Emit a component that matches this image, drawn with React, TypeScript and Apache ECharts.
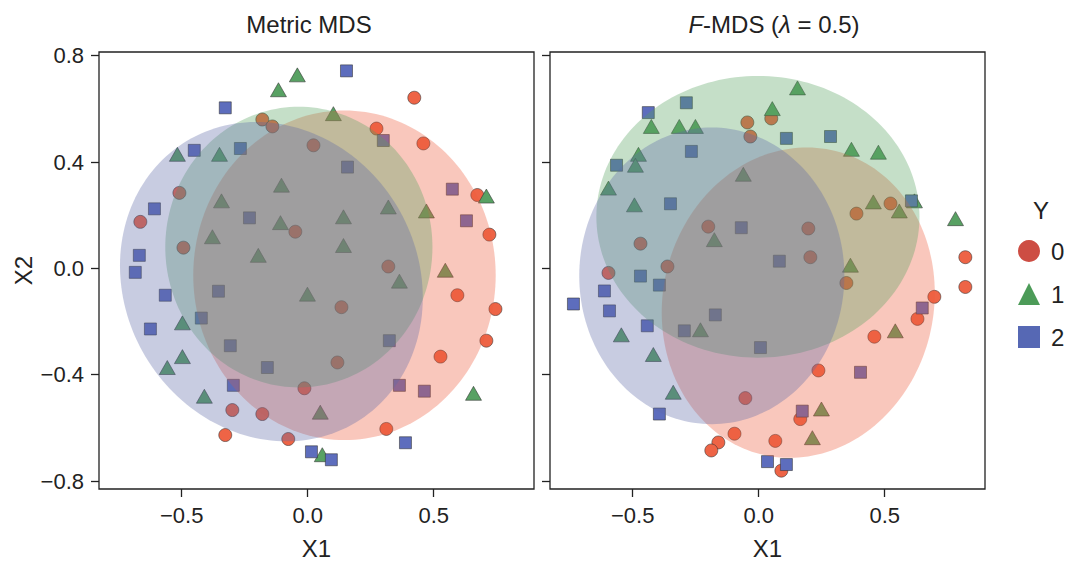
import React, { useEffect, useRef } from "react";
import * as echarts from "echarts";

const FONT = "'Liberation Sans', Arial, Helvetica, sans-serif";

const classes = ["0", "1", "2"];
const pointColors = ["#ee6446", "#58a163", "#5d6dbd"];
const ellipseColors = ["#ee5a3a", "#55a05e", "#5d6aa8"];
const legendColors = ["#cd4d43", "#4c9b58", "#5668b4"];
const symbols = ["circle", "triangle", "rect"];
const symbolSizes: any[] = [13, [16, 14], 12];
const panelTitles = ["Metric MDS", "{i|F}-MDS ({i|λ} = 0.5)"];
const xTicks = [-0.5, 0, 0.5];
const yTicks = [-0.8, -0.4, 0, 0.4, 0.8];

// Metric MDS points
const metric0 = [
  [0.423, 0.642], [0.459, 0.47], [0.273, 0.526], [0.023, 0.463], [-0.18, 0.56],
  [-0.14, 0.534], [-0.509, 0.284], [-0.664, 0.175], [-0.493, 0.078], [-0.049, 0.138],
  [0.673, 0.276], [0.721, 0.127], [0.32, 0.007], [0.134, -0.146], [0.594, -0.101],
  [0.745, -0.153], [0.709, -0.272], [0.527, -0.332], [0.118, -0.354], [-0.013, -0.451],
  [0.312, -0.604], [-0.299, -0.533], [-0.18, -0.548], [-0.327, -0.627], [-0.077, -0.642],
];
const metric1 = [
  [-0.041, 0.728], [-0.116, 0.672], [0.102, 0.582], [-0.517, 0.429], [-0.35, 0.429],
  [-0.104, 0.313], [-0.342, 0.254], [-0.108, 0.172], [-0.378, 0.119], [-0.196, 0.049],
  [0.32, 0.231], [0.471, 0.216], [0.142, 0.194], [0.142, 0.086], [0.709, 0.272],
  [0.546, -0.007], [0.364, -0.048], [-0.001, -0.097], [0.05, -0.541], [0.058, -0.701],
  [0.658, -0.47], [-0.497, -0.205], [-0.497, -0.332], [-0.557, -0.373], [-0.41, -0.481],
];
const metric2 = [
  [-0.327, 0.604], [-0.45, 0.444], [-0.267, 0.451], [-0.608, 0.224], [-0.231, 0.19],
  [-0.668, 0.049], [-0.684, -0.015], [0.154, 0.743], [0.3, 0.481], [0.158, 0.381],
  [0.574, 0.298], [0.63, 0.179], [-0.565, -0.101], [-0.354, -0.086], [-0.422, -0.187],
  [-0.624, -0.228], [-0.307, -0.291], [-0.16, -0.373], [-0.295, -0.44], [0.015, -0.69],
  [0.094, -0.72], [0.324, -0.272], [0.364, -0.44], [0.463, -0.462], [0.388, -0.656],
];

// F-MDS points
const fmds0 = [
  [-0.045, 0.549], [-0.033, 0.496], [0.05, 0.564], [-0.2, 0.157], [-0.469, 0.093],
  [-0.362, 0.007], [0.523, 0.244], [0.388, 0.206], [0.197, 0.15], [0.205, 0.042],
  [0.82, 0.042], [-0.596, -0.017], [-0.053, -0.488], [-0.096, -0.622], [-0.16, -0.655],
  [-0.188, -0.685], [0.82, -0.07], [0.348, -0.055], [0.697, -0.107], [0.63, -0.19],
  [0.459, -0.257], [0.237, -0.384], [0.165, -0.567], [0.066, -0.649], [0.09, -0.761],
];
const fmds1 = [
  [-0.426, 0.534], [-0.315, 0.534], [-0.251, 0.534], [-0.477, 0.429], [-0.489, 0.388],
  [-0.596, 0.302], [-0.493, 0.239], [-0.061, 0.354], [-0.176, 0.108], [0.154, 0.679],
  [0.054, 0.601], [0.368, 0.448], [0.475, 0.437], [0.455, 0.25], [0.558, 0.216],
  [0.618, 0.254], [0.781, 0.187], [0.364, 0.012], [0.542, -0.235], [0.249, -0.529],
  [0.213, -0.637], [-0.545, -0.25], [-0.418, -0.324], [-0.339, -0.466], [-0.231, -0.231],
];
const fmds2 = [
  [-0.438, 0.586], [-0.287, 0.623], [-0.267, 0.44], [-0.564, 0.388], [-0.35, 0.243],
  [-0.069, 0.153], [0.11, 0.489], [0.285, 0.496], [0.606, 0.254], [0.082, 0.027],
  [-0.469, -0.029], [-0.394, -0.063], [-0.612, -0.085], [-0.735, -0.134], [-0.592, -0.16],
  [-0.442, -0.216], [-0.295, -0.235], [-0.172, -0.175], [0.007, -0.298], [-0.394, -0.548],
  [0.649, -0.149], [0.404, -0.391], [0.173, -0.537], [0.035, -0.727], [0.11, -0.738],
];

// Ellipses: [cx, cy, semi-axis a, semi-axis b, angle (deg) of a]
const metricEllipses = [
  [0.146, -0.026, 0.6, 0.62, 0],
  [-0.035, 0.08, 0.53, 0.528, 0],
  [-0.144, -0.05, 0.63, 0.57, -45],
];
const fmdsEllipses = [
  [0.157, -0.129, 0.59, 0.535, 70],
  [-0.003, 0.194, 0.641, 0.53, 0],
  [-0.186, -0.028, 0.526, 0.558, 0],
];

const panelPoints = [
  [metric0, metric1, metric2],
  [fmds0, fmds1, fmds2],
];
const panelEllipses = [metricEllipses, fmdsEllipses];

const fmt = (v: number) => {
  const s = Math.abs(v).toFixed(1);
  return v < -1e-9 ? "\u2212" + s : s;
};

export default function App() {
  const ref = useRef<HTMLDivElement>(null);
  useEffect(() => {
    if (!ref.current) return;
    const chart = echarts.init(ref.current, undefined, { renderer: "svg" });

    const grids = [
      { left: 99, top: 52, width: 435, height: 441 },
      { left: 550, top: 52, width: 435, height: 441 },
    ];
    const axisTick = {
      show: true,
      inside: false,
      length: 8,
      lineStyle: { color: "#222", width: 1.3 },
    };
    const xAxes = grids.map((_, p) => ({
      type: "value",
      gridIndex: p,
      min: -0.828,
      max: 0.898,
      position: "bottom",
      splitLine: { show: false },
      axisLine: { show: false, onZero: false },
      axisTick: { ...axisTick, customValues: xTicks },
      axisLabel: {
        customValues: xTicks,
        formatter: fmt,
        fontSize: 22,
        fontFamily: FONT,
        color: "#222",
        margin: 15,
      },
      name: "X1",
      nameLocation: "middle",
      nameGap: 47,
      nameTextStyle: { fontSize: 24, fontFamily: FONT, color: "#222" },
    }));
    const yAxes = grids.map((_, p) => ({
      type: "value",
      gridIndex: p,
      min: -0.83,
      max: 0.814,
      position: "left",
      splitLine: { show: false },
      axisLine: { show: false, onZero: false },
      axisTick: { ...axisTick, customValues: yTicks },
      axisLabel: {
        show: p === 0,
        customValues: yTicks,
        formatter: fmt,
        fontSize: 22,
        fontFamily: FONT,
        color: "#222",
        margin: 15,
      },
      name: p === 0 ? "X2" : "",
      nameLocation: "middle",
      nameGap: 64,
      nameTextStyle: { fontSize: 24, fontFamily: FONT, color: "#222" },
    }));

    const series: any[] = [];
    for (let p = 0; p < 2; p++) {
      for (let c = 0; c < 3; c++) {
        series.push({
          type: "scatter",
          name: classes[c],
          xAxisIndex: p,
          yAxisIndex: p,
          data: panelPoints[p][c],
          symbol: symbols[c],
          symbolSize: symbolSizes[c],
          itemStyle: {
            color: pointColors[c],
            borderColor: "rgba(50,50,50,0.7)",
            borderWidth: 0.8,
            opacity: 1,
          },
          z: 2,
          silent: true,
        });
      }
      for (let c = 0; c < 3; c++) {
        const color = ellipseColors[c];
        series.push({
          type: "custom",
          name: "ellipse-" + p + "-" + c,
          xAxisIndex: p,
          yAxisIndex: p,
          data: [panelEllipses[p][c]],
          z: 3 + c,
          silent: true,
          renderItem: (params: any, api: any) => {
            const cx = api.value(0);
            const cy = api.value(1);
            const a = api.value(2);
            const b = api.value(3);
            const th = (api.value(4) * Math.PI) / 180;
            const pts: number[][] = [];
            for (let k = 0; k < 180; k++) {
              const t = (k / 180) * Math.PI * 2;
              const x = cx + a * Math.cos(th) * Math.cos(t) - b * Math.sin(th) * Math.sin(t);
              const y = cy + a * Math.sin(th) * Math.cos(t) + b * Math.cos(th) * Math.sin(t);
              pts.push(api.coord([x, y]));
            }
            return {
              type: "polygon",
              shape: { points: pts },
              style: { fill: color, opacity: 0.34, stroke: "none" },
            };
          },
        });
      }
    }

    chart.setOption({
      animation: false,
      backgroundColor: "#ffffff",
      grid: grids.map((g) => ({
        ...g,
        show: true,
        borderColor: "#222",
        borderWidth: 1.3,
        backgroundColor: "transparent",
      })),
      xAxis: xAxes,
      yAxis: yAxes,
      legend: {
        orient: "vertical",
        left: 1018,
        top: 239,
        padding: 0,
        itemWidth: 22,
        itemHeight: 22,
        itemGap: 19,
        selectedMode: false,
        data: classes.map((c, i) => ({
          name: c,
          icon: symbols[i],
          itemStyle: { color: legendColors[i], borderWidth: 0 },
        })),
        textStyle: {
          fontSize: 24,
          fontFamily: FONT,
          color: "#222",
          padding: [0, 0, 0, 6],
        },
      },
      graphic: [
        {
          type: "text",
          x: 309,
          y: 24,
          style: {
            text: panelTitles[0],
            fontSize: 24,
            fontFamily: FONT,
            fill: "#222",
            align: "center",
            verticalAlign: "middle",
          },
        },
        {
          type: "text",
          x: 774,
          y: 24,
          style: {
            text: panelTitles[1],
            fontSize: 24,
            fontFamily: FONT,
            fill: "#222",
            align: "center",
            verticalAlign: "middle",
            rich: {
              i: { fontStyle: "italic", fontSize: 24, fontFamily: FONT, fill: "#222" },
            },
          },
        },
        {
          type: "text",
          x: 1041,
          y: 210,
          style: {
            text: "Y",
            fontSize: 24,
            fontFamily: FONT,
            fill: "#222",
            align: "center",
            verticalAlign: "middle",
          },
        },
      ],
      series,
    });

    return () => chart.dispose();
  }, []);

  return (
    <div
      ref={ref}
      style={{ position: "absolute", left: 0, top: 0, width: 1068, height: 565 }}
    />
  );
}
